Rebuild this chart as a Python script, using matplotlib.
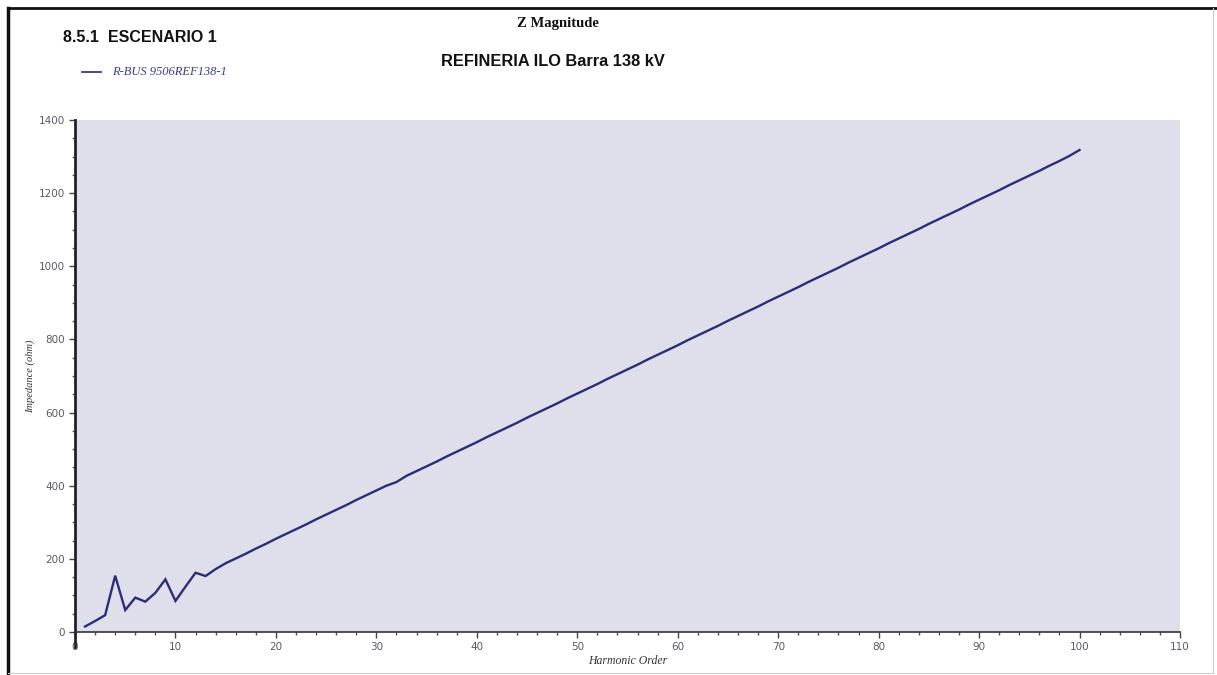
import matplotlib
matplotlib.use("Agg")
import matplotlib.pyplot as plt
from matplotlib.lines import Line2D
from matplotlib.ticker import MultipleLocator

# Harmonic impedance scan, bus REFINERIA ILO 138 kV
harmonic_order = list(range(1, 101))
impedance_ohm = [
    15, 30, 46, 154, 60, 94, 83, 107, 144, 85,
    124, 162, 153, 172, 188, 201, 214, 228, 241, 255,
    268, 281, 294, 308, 321, 334, 347, 361, 374, 387,
    400, 410, 427, 440, 453, 466, 480, 493, 506, 519,
    533, 546, 559, 572, 586, 599, 612, 625, 639, 652,
    665, 678, 692, 705, 718, 731, 745, 758, 771, 784,
    798, 811, 824, 837, 851, 864, 877, 890, 904, 917,
    930, 943, 957, 970, 983, 996, 1010, 1023, 1036, 1049,
    1063, 1076, 1089, 1102, 1116, 1129, 1142, 1155, 1169, 1182,
    1195, 1208, 1222, 1235, 1248, 1261, 1275, 1288, 1302, 1318,
]
series_name = "R-BUS 9506REF138-1"
x_ticks = [0, 10, 20, 30, 40, 50, 60, 70, 80, 90, 100, 110]
y_ticks = [0, 200, 400, 600, 800, 1000, 1200, 1400]

W, H = 1217, 675
fig = plt.figure(figsize=(W / 100, H / 100), dpi=100)
fig.patch.set_facecolor("white")

LINE_COLOR = "#2a2d78"
TICK_COLOR = "#5a5a66"

ax = fig.add_axes([75 / W, 1 - 632 / H, (1180 - 75) / W, (632 - 120) / H])
ax.set_facecolor("#dfdfec")
ax.plot(harmonic_order, impedance_ohm, color=LINE_COLOR, lw=1.7,
        solid_joinstyle="miter")

ax.set_xlim(0, 110)
ax.set_ylim(0, 1400)
ax.set_xticks(x_ticks)
ax.set_yticks(y_ticks)
ax.xaxis.set_minor_locator(MultipleLocator(2))
ax.yaxis.set_minor_locator(MultipleLocator(50))

for side in ("top", "right"):
    ax.spines[side].set_visible(False)
ax.spines["left"].set_linewidth(2.0)
ax.spines["left"].set_color("#222222")
ax.spines["bottom"].set_linewidth(1.2)
ax.spines["bottom"].set_color("#333333")

ax.tick_params(axis="both", which="major", direction="out", length=4,
               width=1.0, color="#444444", labelsize=7.5,
               labelcolor=TICK_COLOR)
ax.tick_params(axis="both", which="minor", direction="out", length=2.5,
               width=1.0, color="#555555")
ax.tick_params(axis="x", pad=3)
ax.tick_params(axis="y", pad=3)

# left axis runs a little below zero
ax.add_line(Line2D([0, 0], [0, -0.03], transform=ax.transAxes,
                   color="#222222", lw=2.0, clip_on=False))

ax.set_xlabel("Harmonic Order", family="Liberation Serif", style="italic",
              fontsize=8.5, color="#333333", labelpad=2)
ax.set_ylabel("Impedance (ohm)", family="Liberation Serif", style="italic",
              fontsize=7.5, color="#333333", labelpad=3)

# headings
fig.text(63 / W, 1 - 37 / H, "8.5.1  ESCENARIO 1", family="Liberation Sans",
         weight="bold", fontsize=11.5, ha="left", va="center", color="#111111")
fig.text(558 / W, 1 - 23 / H, "Z Magnitude", family="Liberation Serif",
         weight="bold", fontsize=10.5, ha="center", va="center", color="#111111")
fig.text(553 / W, 1 - 62 / H, "REFINERIA ILO Barra 138 kV",
         family="Liberation Sans", weight="bold", fontsize=11.8,
         ha="center", va="center", color="#111111")

# legend entry
fig.add_artist(Line2D([82 / W, 101 / W], [1 - 72 / H, 1 - 72 / H],
                      transform=fig.transFigure, color="#3a3a95", lw=1.3))
fig.text(112 / W, 1 - 72 / H, series_name, family="Liberation Serif",
         style="italic", fontsize=9, ha="left", va="center", color="#3a3a95")

# page frame
fig.add_artist(Line2D([8 / W, 8 / W], [0, 1 - 8 / H], transform=fig.transFigure,
                      color="#111111", lw=2.5))
fig.add_artist(Line2D([8 / W, 1], [1 - 8 / H, 1 - 8 / H],
                      transform=fig.transFigure, color="#111111", lw=2.0))
fig.add_artist(Line2D([1213 / W, 1213 / W], [2 / H, 1 - 8 / H],
                      transform=fig.transFigure, color="#cccccc", lw=0.8))
fig.add_artist(Line2D([8 / W, 1213 / W], [2 / H, 2 / H],
                      transform=fig.transFigure, color="#cccccc", lw=0.8))

fig.savefig("out.png", dpi=100)
